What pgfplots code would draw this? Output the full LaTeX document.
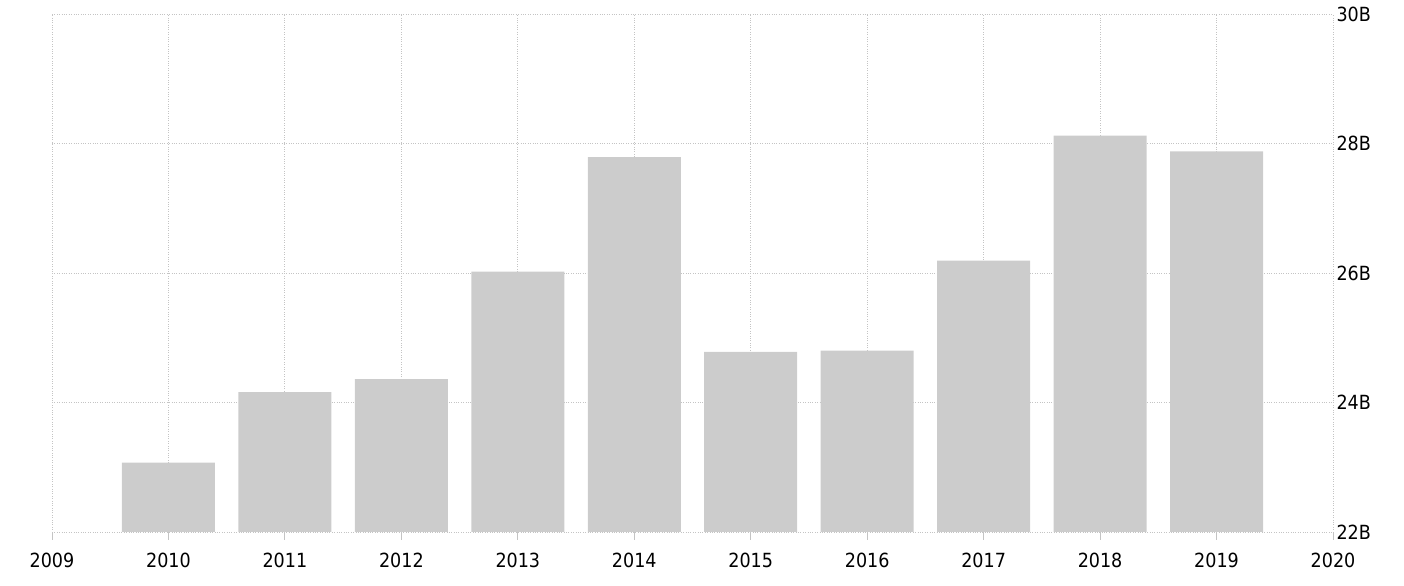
\documentclass[border=0pt]{standalone}
\usepackage{pgfplots}
\pgfplotsset{compat=1.18}
\usepackage{fontspec}
\setmainfont{DejaVu Sans Condensed}
\definecolor{barc}{HTML}{CCCCCC}
\definecolor{gridc}{HTML}{C4C4C4}
\begin{document}
\begin{tikzpicture}
\begin{axis}[name=ax, scale only axis, width=1281bp, height=518bp,
  xmin=2009, xmax=2020, ymin=22, ymax=30,
  xtick={2009,2010,2011,2012,2013,2014,2015,2016,2017,2018,2019,2020},
  xticklabels={2009,2010,2011,2012,2013,2014,2015,2016,2017,2018,2019,2020},
  ytick={22,24,26,28,30},
  yticklabels={22B,24B,26B,28B,30B},
  yticklabel pos=right, xtick pos=bottom,
  axis line style={draw=none},
  grid=major, grid style={gridc, dotted, line width=0.9bp},
  xtick align=outside, major tick length=8bp,
  xtick style={gridc, solid, line width=1bp},
  ytick style={draw=none},
  tick label style={font=\fontsize{19.5bp}{22bp}\selectfont, text=black},
  xticklabel style={yshift=-10bp},
  yticklabel style={anchor=west, xshift=0bp},
  clip=true,
]
\addplot[ybar, bar width=93bp, bar shift=0pt, fill=barc, draw=none] coordinates {
(2010,23.07) (2011,24.16) (2012,24.36) (2013,26.02) (2014,27.79)
(2015,24.78) (2016,24.80) (2017,26.19) (2018,28.12) (2019,27.88)};
\end{axis}
\path (ax.south west) ++(-52bp,-54bp);
\path (ax.north east) ++(71bp,14bp);
\end{tikzpicture}
\end{document}
